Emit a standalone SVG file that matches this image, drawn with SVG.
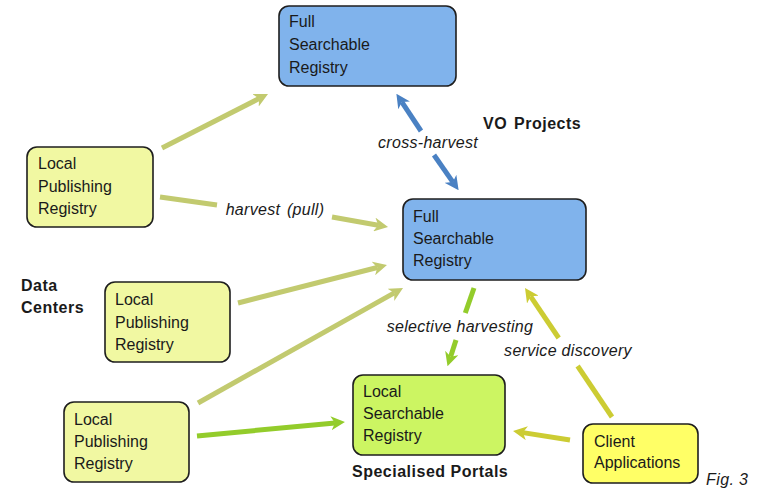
<svg xmlns="http://www.w3.org/2000/svg" width="761" height="489" viewBox="0 0 761 489">
  <style>
    .box { stroke: #1e1e1e; stroke-width: 1.6; }
    .fsr { fill: #80b3ec; }
    .lpr { fill: #f1f8a2; }
    .lsr { fill: #ccf562; }
    .cli { fill: #ffff66; }
    .t { font-family: "Liberation Sans", Arial, sans-serif; font-size: 16px; fill: #1a1a1a; }
    .b { font-family: "Liberation Sans", Arial, sans-serif; font-size: 16px; font-weight: bold; fill: #1a1a1a; letter-spacing: 0.5px; }
    .lbl { font-family: "Liberation Sans", Arial, sans-serif; font-size: 16px; font-style: italic; fill: #1a1a1a; text-anchor: middle; letter-spacing: 0.3px; }
    .c { fill: none; stroke-width: 5; }
    .olive { stroke: #c2ca6f; }
    .blue { stroke: #4a81c3; }
    .green { stroke: #93cc2b; }
    .yellow { stroke: #cccc33; }
  </style>
  <defs>
    <marker id="ah-olive" viewBox="0 0 14 14" refX="4" refY="7" markerWidth="14" markerHeight="14" markerUnits="userSpaceOnUse" orient="auto">
      <path d="M14,7 L0,0 L4,7 L0,14 Z" fill="#c2ca6f"/>
    </marker>
    <marker id="ah-blue" viewBox="0 0 14 14" refX="4" refY="7" markerWidth="14" markerHeight="14" markerUnits="userSpaceOnUse" orient="auto">
      <path d="M14,7 L0,0 L4,7 L0,14 Z" fill="#4a81c3"/>
    </marker>
    <marker id="ah-green" viewBox="0 0 14 14" refX="4" refY="7" markerWidth="14" markerHeight="14" markerUnits="userSpaceOnUse" orient="auto">
      <path d="M14,7 L0,0 L4,7 L0,14 Z" fill="#93cc2b"/>
    </marker>
    <marker id="ah-yellow" viewBox="0 0 14 14" refX="4" refY="7" markerWidth="14" markerHeight="14" markerUnits="userSpaceOnUse" orient="auto">
      <path d="M14,7 L0,0 L4,7 L0,14 Z" fill="#cccc33"/>
    </marker>
  </defs>

  <rect width="761" height="489" fill="#ffffff"/>

  <!-- connectors -->
  <g id="connectors">
    <line class="c olive" x1="162" y1="148" x2="259.1" y2="98.5" marker-end="url(#ah-olive)"/>
    <line class="c olive" x1="160" y1="197" x2="217" y2="205"/>
    <line class="c olive" x1="332" y1="217" x2="378.2" y2="225.2" marker-end="url(#ah-olive)"/>
    <line class="c olive" x1="238" y1="303" x2="377.3" y2="267.5" marker-end="url(#ah-olive)"/>
    <line class="c olive" x1="198" y1="403" x2="394.3" y2="292.9" marker-end="url(#ah-olive)"/>
    <line class="c green" x1="197" y1="436" x2="335" y2="422.9" marker-end="url(#ah-green)"/>
    <line class="c blue" x1="421" y1="131" x2="401.9" y2="102.1" marker-end="url(#ah-blue)"/>
    <line class="c blue" x1="434" y1="155" x2="452.9" y2="182.1" marker-end="url(#ah-blue)"/>
    <line class="c green" x1="474" y1="288" x2="465.3" y2="313"/>
    <line class="c green" x1="456" y1="340" x2="450.6" y2="356.7" marker-end="url(#ah-green)"/>
    <line class="c yellow" x1="612" y1="417" x2="577.6" y2="366"/>
    <line class="c yellow" x1="558.7" y1="338" x2="530.6" y2="296.3" marker-end="url(#ah-yellow)"/>
    <line class="c yellow" x1="570" y1="440" x2="522.9" y2="432.6" marker-end="url(#ah-yellow)"/>
    <text class="lbl" x="428" y="148">cross-harvest</text>
    <text class="lbl" x="275" y="215" word-spacing="2">harvest (pull)</text>
    <text class="lbl" x="460" y="332">selective harvesting</text>
    <text class="lbl" x="568" y="356">service discovery</text>
  </g>

  <!-- nodes -->
  <g id="fsr-top">
    <rect class="box fsr" x="279" y="6" width="177" height="80" rx="10"/>
    <text class="t" x="289" y="27">Full</text>
    <text class="t" x="289" y="50">Searchable</text>
    <text class="t" x="289" y="73">Registry</text>
  </g>
  <g id="fsr-mid">
    <rect class="box fsr" x="403" y="199" width="183" height="81" rx="10"/>
    <text class="t" x="413" y="222">Full</text>
    <text class="t" x="413" y="244">Searchable</text>
    <text class="t" x="413" y="266">Registry</text>
  </g>
  <g id="lpr-1">
    <rect class="box lpr" x="27" y="147" width="126" height="80" rx="10"/>
    <text class="t" x="38" y="169">Local</text>
    <text class="t" x="38" y="192">Publishing</text>
    <text class="t" x="38" y="214">Registry</text>
  </g>
  <g id="lpr-2">
    <rect class="box lpr" x="105" y="282" width="125" height="80" rx="10"/>
    <text class="t" x="115" y="305">Local</text>
    <text class="t" x="115" y="328">Publishing</text>
    <text class="t" x="115" y="350">Registry</text>
  </g>
  <g id="lpr-3">
    <rect class="box lpr" x="64" y="402" width="125" height="80" rx="10"/>
    <text class="t" x="74" y="425">Local</text>
    <text class="t" x="74" y="447">Publishing</text>
    <text class="t" x="74" y="469">Registry</text>
  </g>
  <g id="lsr">
    <rect class="box lsr" x="353" y="375" width="152" height="80" rx="10"/>
    <text class="t" x="363" y="397">Local</text>
    <text class="t" x="363" y="419">Searchable</text>
    <text class="t" x="363" y="441">Registry</text>
  </g>
  <g id="client">
    <rect class="box cli" x="583" y="424" width="115" height="59" rx="10"/>
    <text class="t" x="594" y="447">Client</text>
    <text class="t" x="594" y="468">Applications</text>
  </g>

  <!-- group captions -->
  <g id="captions">
    <text class="b" x="483" y="129" word-spacing="2">VO Projects</text>
    <text class="b" x="21" y="291">Data</text>
    <text class="b" x="21" y="313">Centers</text>
    <text class="b" x="352" y="477">Specialised Portals</text>
    <text class="t" x="706" y="485" font-style="italic" letter-spacing="0.4">Fig. 3</text>
  </g>
</svg>
